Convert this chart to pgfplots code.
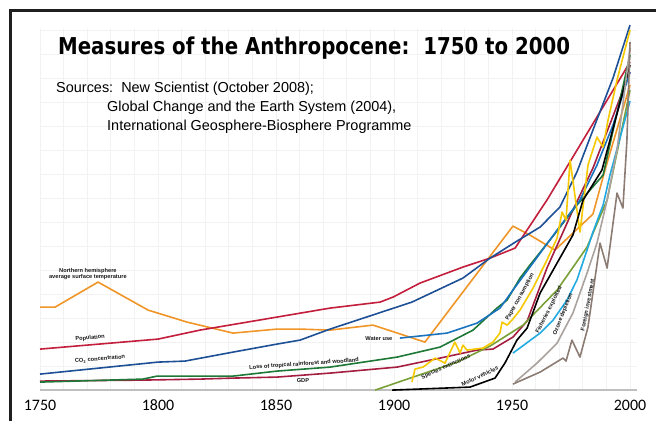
\documentclass[border=0pt]{standalone}
\usepackage{fontspec}
\setmainfont{Liberation Sans}
\newfontfamily\titlefont{DejaVu Sans}
\newfontfamily\tickfont{Carlito}
\usepackage{graphicx}
\usepackage{pgfplots}
\pgfplotsset{compat=1.18}

\definecolor{tempor}{RGB}{240,150,40}
\definecolor{popred}{RGB}{195,30,60}
\definecolor{co2blue}{RGB}{30,80,150}
\definecolor{forgreen}{RGB}{30,120,55}
\definecolor{gdpred}{RGB}{165,30,65}
\definecolor{waterblue}{RGB}{25,115,190}
\definecolor{paperyel}{RGB}{245,200,0}
\definecolor{olive}{RGB}{120,160,55}
\definecolor{ozcyan}{RGB}{35,170,225}
\definecolor{lgray}{RGB}{170,162,158}
\definecolor{bgray}{RGB}{140,124,116}
\definecolor{gridc}{RGB}{242,242,242}

\tikzset{lab/.style={font=\fontsize{5.7}{6.5}\selectfont\bfseries, text=black!90, inner sep=0pt}}

\begin{document}
\begin{tikzpicture}
\begin{axis}[
  scale only axis, width=656bp, height=421bp,
  xmin=1733.05, xmax=2011.02, ymin=-421, ymax=0,
  axis line style={draw=none}, major tick length=0pt,
  ytick=\empty,
  xtick={1750,1800,1850,1900,1950,2000},
  xticklabels={1750,1800,1850,1900,1950,2000},
  xticklabel style={anchor=center, yshift=16bp, font=\tickfont\fontsize{16}{16}\selectfont},
  every axis plot/.append style={line width=1.6bp, line join=round, no marks},
]
% faint grid and baseline
\pgfplotsinvokeforeach{1750,1760,...,2000}{\draw[gridc, line width=0.8bp] (axis cs:#1,-390) -- (axis cs:#1,-28);}
\pgfplotsinvokeforeach{-366,-342,...,-30}{\draw[gridc, line width=0.8bp] (axis cs:1750,#1) -- (axis cs:2003,#1);}
\draw[black!25, line width=1.4bp] (axis cs:1750,-390) -- (axis cs:2003,-390);

% northern hemisphere temperature
\addplot[tempor] coordinates {(1750,-307) (1756.4,-307) (1774.6,-282) (1795.8,-310) (1812.3,-322)
  (1831.8,-333) (1850.4,-329) (1860.2,-329) (1872.9,-330) (1891.1,-325) (1913.1,-342)
  (1950.4,-226) (1957.6,-235) (1968.2,-250) (1984.3,-214) (1989.4,-170) (2000,-85)};
% population
\addplot[popred] coordinates {(1750,-349) (1800,-339) (1817.8,-330) (1872.9,-308) (1894.1,-302)
  (1899.6,-297) (1911,-283) (1929.2,-267) (1940.7,-258) (1951.3,-248) (1964.8,-200) (2000,-62)};
% CO2
\addplot[co2blue] coordinates {(1750,-374) (1800,-362) (1811.4,-361) (1831.8,-352) (1850.4,-344)
  (1860.2,-340) (1872.9,-329) (1907.6,-302) (1929.2,-278) (1940.7,-258) (1952.1,-241)
  (1961.9,-227) (1970.3,-207) (1977.5,-172) (1985.1,-125) (1992.8,-78) (2000,-25)};
% GDP
\addplot[gdpred] coordinates {(1750,-381) (1793.6,-380) (1817.8,-379) (1831.8,-378) (1850.4,-377)
  (1872.9,-373) (1901.3,-367) (1919.5,-358) (1935.2,-350) (1941.9,-349) (1950.4,-337)
  (1956.4,-321) (1964.8,-268) (1975.8,-210) (1984.3,-168) (2000,-72)};
% loss of tropical rainforest
\addplot[forgreen] coordinates {(1750,-382) (1793.6,-379) (1799.6,-376) (1831.8,-376) (1850.4,-371)
  (1872.9,-367) (1901.3,-357) (1919.5,-347) (1933.5,-330) (1943.6,-308) (1947.9,-300)
  (1953.4,-278) (1957.6,-265) (1967.4,-236) (1977.5,-205) (1988.6,-175) (2000,-55)};
% water use
\addplot[waterblue] coordinates {(1902.5,-338) (1922.5,-333) (1935.2,-323) (1944.9,-308) (1950.4,-290)
  (1957.6,-267) (1969.1,-230) (1978.8,-200) (1986,-165) (1992.8,-125) (2000,-72)};
% species extinctions
\addplot[olive] coordinates {(1892,-390) (1908.1,-377) (1926.7,-362) (1940.7,-346) (1954.7,-325)
  (1969.1,-290) (1981.8,-247) (1990.3,-200) (2000,-90)};
% paper consumption
\addplot[paperyel] coordinates {(1907.6,-382) (1908.9,-369) (1912.3,-367) (1917.4,-358) (1921.6,-363)
  (1925.8,-342) (1928,-353) (1929.2,-345) (1930.9,-350) (1937.7,-348) (1941.9,-342) (1944.9,-333)
  (1945.8,-322) (1947.9,-325) (1950,-320) (1953.4,-310) (1958.9,-288) (1964.8,-260) (1969.1,-238)
  (1971.2,-212) (1972.9,-220) (1974.6,-160) (1978.8,-232) (1982.2,-165) (1986,-137)
  (1988.6,-147) (1990.7,-120) (1994.5,-80) (2000,-30)};
% motor vehicles
\addplot[black] coordinates {(1899.2,-390) (1932.2,-387) (1942.8,-378) (1947,-363) (1952.1,-340)
  (1956.4,-328) (1961.9,-293) (1975.8,-235) (1980.1,-200) (1988.1,-170) (2000,-65)};
% ozone depletion
\addplot[ozcyan] coordinates {(1950.4,-353) (1961.9,-333) (1967.4,-320) (1973.3,-300) (1977.5,-280)
  (1981.8,-250) (1984.3,-232) (1988.6,-205) (1991.5,-175) (2000,-101)};
% light grey series
\addplot[lgray] coordinates {(1951.3,-382) (1960.6,-363) (1969.1,-343) (1975.8,-313) (1981.8,-273)
  (1986,-243) (1990.3,-200) (1994.5,-150) (2000,-48)};
% foreign investment
\addplot[bgray] coordinates {(1950.4,-384) (1961.9,-372) (1971.6,-358) (1972.9,-361) (1975.4,-340)
  (1978.8,-357) (1982.2,-327) (1987.3,-243) (1990.3,-268) (1994.5,-193) (1997,-208) (1998.7,-140)
  (2000,-42)};

% series labels
\node[lab, align=center] at (axis cs:1770.3,-274) {Northern hemisphere\\average surface temperature};
\node[lab, rotate=5] at (axis cs:1771.2,-338) {Population};
\node[lab, rotate=5] at (axis cs:1775.4,-359) {CO\textsubscript{2} concentration};
\node[lab, rotate=4] at (axis cs:1861.9,-364) {Loss of tropical rainforest and woodland};
\node[lab] at (axis cs:1861.4,-380) {GDP};
\node[lab] at (axis cs:1893.6,-338) {Water use};
\node[lab, rotate=24] at (axis cs:1922,-367) {Species extinctions};
\node[lab, rotate=25] at (axis cs:1936.4,-376) {Motor vehicles};
\node[lab, rotate=61] at (axis cs:1953.4,-297) {Paper consumption};
\node[lab, rotate=63] at (axis cs:1965.7,-310) {Fisheries exploited};
\node[lab, rotate=68] at (axis cs:1971.6,-314) {Ozone depletion};
\node[lab, rotate=79] at (axis cs:1982.2,-305) {Foreign investment};

% title and sources
\node[anchor=base west, inner sep=0pt] at (axis cs:1757.6,-54)
  {\resizebox{512bp}{\height}{\titlefont\bfseries\fontsize{23.3}{24}\selectfont Measures of the Anthropocene:\ \ 1750 to 2000}};
\node[anchor=base west, inner sep=0pt, font=\fontsize{14.5}{16}\selectfont] at (axis cs:1756.8,-92)
  {Sources:\ \ New Scientist (October 2008);};
\node[anchor=base west, inner sep=0pt, font=\fontsize{14.5}{16}\selectfont] at (axis cs:1778.4,-111)
  {Global Change and the Earth System (2004),};
\node[anchor=base west, inner sep=0pt, font=\fontsize{14.5}{16}\selectfont] at (axis cs:1778.4,-130)
  {International Geosphere-Biosphere Programme};

% frame
\draw[black!88, line width=3bp] (axis cs:1737.4,-421) -- (axis cs:1737.4,-10) -- (axis cs:2011.02,-10);
\end{axis}
\end{tikzpicture}
\end{document}
